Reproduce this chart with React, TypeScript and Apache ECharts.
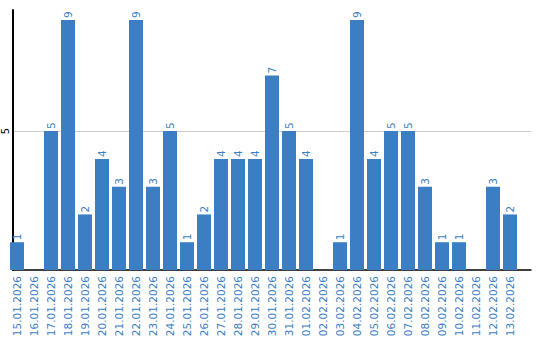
import React, { useEffect, useRef } from "react";
import * as echarts from "echarts";

const categories = [
  "15.01.2026", "16.01.2026", "17.01.2026", "18.01.2026", "19.01.2026",
  "20.01.2026", "21.01.2026", "22.01.2026", "23.01.2026", "24.01.2026",
  "25.01.2026", "26.01.2026", "27.01.2026", "28.01.2026", "29.01.2026",
  "30.01.2026", "31.01.2026", "01.02.2026", "02.02.2026", "03.02.2026",
  "04.02.2026", "05.02.2026", "06.02.2026", "07.02.2026", "08.02.2026",
  "09.02.2026", "10.02.2026", "11.02.2026", "12.02.2026", "13.02.2026",
];
const values = [1, 0, 5, 9, 2, 4, 3, 9, 3, 5, 1, 2, 4, 4, 4, 7, 5, 4, 0, 1, 9, 4, 5, 5, 3, 1, 1, 0, 3, 2];
const yTickLabels = ["5"];

const BLUE = "#3b7ec4";
const FONT = "DejaVu Sans";

export default function App() {
  const ref = useRef<HTMLDivElement>(null);
  useEffect(() => {
    if (!ref.current) return;
    const chart = echarts.init(ref.current, null, { renderer: "svg" });
    const yMax = 9.36;
    chart.setOption({
      animation: false,
      backgroundColor: "#ffffff",
      grid: [
        { left: 10, right: 9, top: 10, bottom: 70 },
        { left: 8.5, width: 510, top: 10, bottom: 70 },
      ],
      xAxis: [
        {
          type: "value",
          gridIndex: 0,
          min: 0,
          max: 1,
          axisLine: { show: true, onZero: false, lineStyle: { color: "#000", width: 1.5 } },
          axisTick: { show: false },
          axisLabel: { show: false },
          splitLine: { show: false },
        },
        {
          type: "category",
          gridIndex: 1,
          data: categories,
          axisLine: { show: false },
          axisTick: { show: false },
          axisLabel: {
            rotate: 90,
            interval: 0,
            margin: 6,
            color: BLUE,
            fontSize: 10.5,
            fontFamily: FONT,
          },
        },
      ],
      yAxis: [
        {
          type: "value",
          gridIndex: 0,
          min: 0,
          max: yMax,
          interval: 5,
          axisLine: { show: true, lineStyle: { color: "#000", width: 2 } },
          axisTick: { show: false },
          axisLabel: {
            rotate: 90,
            margin: 3,
            color: "#000",
            fontSize: 10,
            fontFamily: FONT,
            showMaxLabel: false,
            formatter: (v: number) => (yTickLabels.includes(String(v)) ? String(v) : ""),
          },
          splitLine: {
            show: true,
            showMinLine: false,
            showMaxLine: false,
            lineStyle: { color: "#cccccc", width: 1 },
          },
        },
        {
          type: "value",
          gridIndex: 1,
          min: 0,
          max: yMax,
          show: false,
          splitLine: { show: false },
        },
      ],
      series: [
        {
          type: "bar",
          xAxisIndex: 1,
          yAxisIndex: 1,
          data: values,
          barWidth: 14,
          itemStyle: { color: BLUE },
          label: {
            show: true,
            position: "top",
            rotate: 90,
            align: "left",
            verticalAlign: "middle",
            distance: 2,
            color: BLUE,
            fontSize: 10.5,
            fontFamily: FONT,
            formatter: (p: any) => (p.value === 0 ? "" : String(p.value)),
          },
        },
      ],
    });
    return () => chart.dispose();
  }, []);
  return <div ref={ref} style={{ width: 540, height: 340, position: "absolute", left: 0, top: 0 }} />;
}
